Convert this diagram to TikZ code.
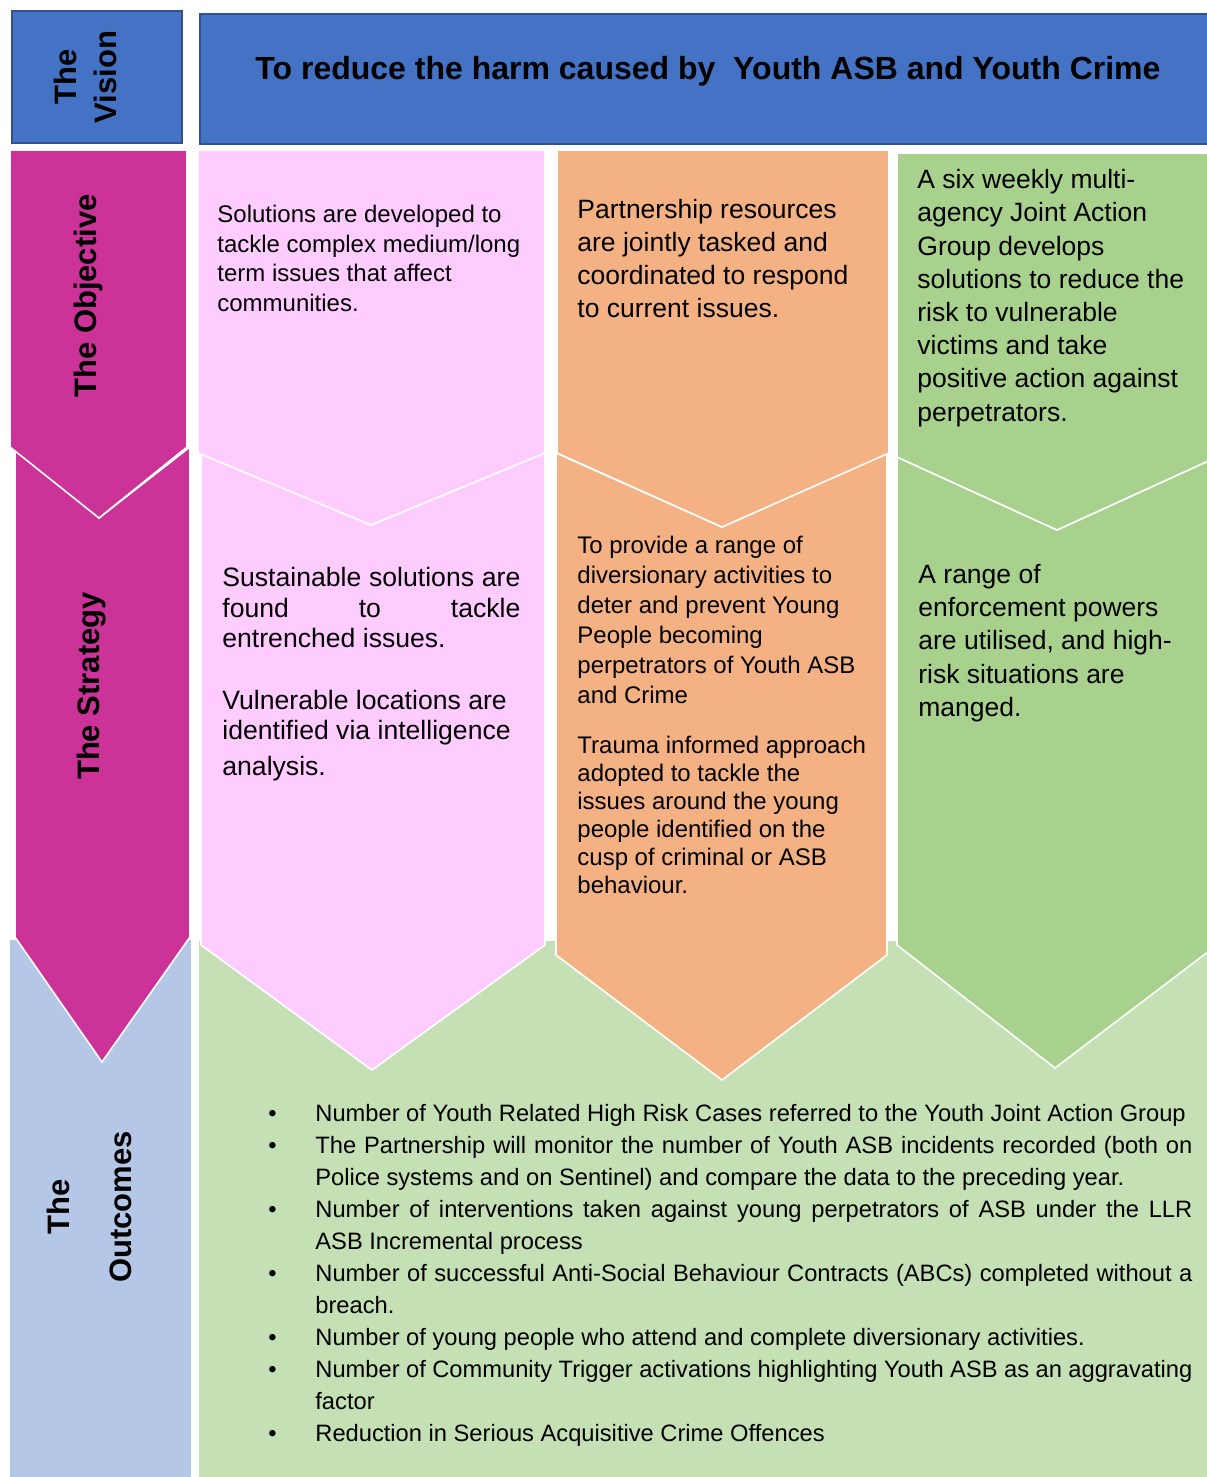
\documentclass[tikz,border=0pt]{standalone}
\usepackage{fontspec}
\setmainfont{Liberation Sans}
\usepackage{enumitem}
\usetikzlibrary{positioning}
\definecolor{visionblue}{HTML}{4472C4}
\definecolor{visionedge}{HTML}{2F528F}
\definecolor{colmagenta}{HTML}{CC3399}
\definecolor{colpink}{HTML}{FFCCFF}
\definecolor{colorange}{HTML}{F4B183}
\definecolor{colgreen}{HTML}{A9D18E}
\definecolor{outblue}{HTML}{B4C7E7}
\definecolor{outgreen}{HTML}{C5E0B4}
\tikzset{
  visionbox/.style={draw=visionedge, fill=visionblue, line width=1pt},
  chevshape/.style={draw=white, line width=0.8pt},
  sidelabel/.style={rotate=90, align=center, inner sep=0pt, font=\fontsize{15.5}{20}\selectfont\bfseries},
  celltext/.style={anchor=north west, align=left, inner sep=0pt},
}

\begin{document}
\begin{tikzpicture}[x=0.5pt, y=-0.5pt]
    \useasboundingbox (0,0) rectangle (1206,1477);
    % vision row
    \draw[visionbox] (12,11) rectangle (182,143);
    \draw[visionbox] (200,14) rectangle (1216,144);
    \node[sidelabel] (visionlabel) at (85,77) {The\\Vision};
    \node[font=\fontsize{16}{19}\selectfont\bfseries] (visiontext) at (708,71) {To reduce the harm caused by\ \ Youth ASB and Youth Crime};
    % outcomes (bottom layer)
    \fill[outblue] (10,940) rectangle (191,1480);
    \fill[outgreen] (199,941) rectangle (1216,1480);
    % strategy chevrons
    \filldraw[chevshape, fill=colmagenta] (15,447) -- (99,518) -- (190,447) -- (190,937) -- (102,1062) -- (15,937) -- cycle;
    \filldraw[chevshape, fill=colpink] (201,453) -- (371,525) -- (545,453) -- (545,945) -- (372,1070) -- (201,945) -- cycle;
    \filldraw[chevshape, fill=colorange] (556,453) -- (722,527) -- (887,453) -- (887,955) -- (722,1080) -- (556,955) -- cycle;
    \filldraw[chevshape, fill=colgreen] (897,457) -- (1057,530) -- (1217,457) -- (1217,945) -- (1055,1068) -- (897,945) -- cycle;
    % objective pentagons
    \filldraw[chevshape, fill=colmagenta] (10,150) -- (187,150) -- (187,447) -- (99,518) -- (10,447) -- cycle;
    \filldraw[chevshape, fill=colpink] (198,150) -- (545,150) -- (545,453) -- (371,525) -- (198,453) -- cycle;
    \filldraw[chevshape, fill=colorange] (557,150) -- (889,150) -- (889,453) -- (722,527) -- (557,453) -- cycle;
    \filldraw[chevshape, fill=colgreen] (897,153) -- (1217,153) -- (1217,457) -- (1057,530) -- (897,457) -- cycle;
    % row labels
    \node[sidelabel] (objlabel) at (88,296) {The Objective};
    \node[sidelabel] (stratlabel) at (92,686) {The Strategy};
    \node[sidelabel, font=\fontsize{15.5}{31}\selectfont\bfseries] (outlabel) at (89,1207) {The\\Outcomes};
    % objective texts
    \node[celltext, font=\fontsize{12}{14.75}\selectfont] (objpink) at (217,205) {Solutions are developed to\\tackle complex medium/long\\term issues that affect\\communities.};
    \node[celltext, font=\fontsize{13.25}{16.5}\selectfont] (objorange) at (577,199) {Partnership resources\\are jointly tasked and\\coordinated to respond\\to current issues.};
    \node[celltext, font=\fontsize{13.25}{16.6}\selectfont] (objgreen) at (917,169) {A six weekly multi-\\agency Joint Action\\Group develops\\solutions to reduce the\\risk to vulnerable\\victims and take\\positive action against\\perpetrators.};
    % strategy texts
    \node[celltext, align=justify, text width=149pt, font=\fontsize{13.3}{15.25}\selectfont] (stratpink) at (222,567) {Sustainable solutions are\linebreak found to tackle\linebreak entrenched issues.\par\vspace{15.5pt}\fontsize{13.3}{16.5}\selectfont Vulnerable locations are\\identified via intelligence\\[2.5pt]analysis.};
    \node[celltext, font=\fontsize{12}{15}\selectfont] (stratorange) at (577,536) {To provide a range of\\diversionary activities to\\deter and prevent Young\\People becoming\\perpetrators of Youth ASB\\and Crime};
    \node[celltext, font=\fontsize{12}{14}\selectfont] (stratorangetwo) at (577,736) {Trauma informed approach\\adopted to tackle the\\issues around the young\\people identified on the\\cusp of criminal or ASB\\behaviour.};
    \node[celltext, font=\fontsize{13.25}{16.6}\selectfont] (stratgreen) at (918,564) {A range of\\enforcement powers\\are utilised, and high-\\risk situations are\\manged.};
    % outcomes list
    \node[celltext, font=\fontsize{11.85}{16}\selectfont] (outlist) at (268,1104) {\begin{minipage}{462pt}
      \begin{itemize}[leftmargin=23.5pt, labelindent=0pt, labelsep=0pt, labelwidth=23.5pt, align=left, itemsep=0pt, parsep=0pt, topsep=0pt, partopsep=0pt, label=\textbullet]
        \item Number of Youth Related High Risk Cases referred to the Youth Joint Action Group
        \item The Partnership will monitor the number of Youth ASB incidents recorded (both on\linebreak Police systems and on Sentinel) and compare the data to the preceding year.
        \item Number of interventions taken against young perpetrators of ASB under the LLR\linebreak ASB Incremental process
        \item Number of successful Anti-Social Behaviour Contracts (ABCs) completed without a\linebreak breach.
        \item Number of young people who attend and complete diversionary activities.
        \item Number of Community Trigger activations highlighting Youth ASB as an aggravating\linebreak factor
        \item Reduction in Serious Acquisitive Crime Offences
      \end{itemize}
    \end{minipage}};
\end{tikzpicture}
\end{document}
